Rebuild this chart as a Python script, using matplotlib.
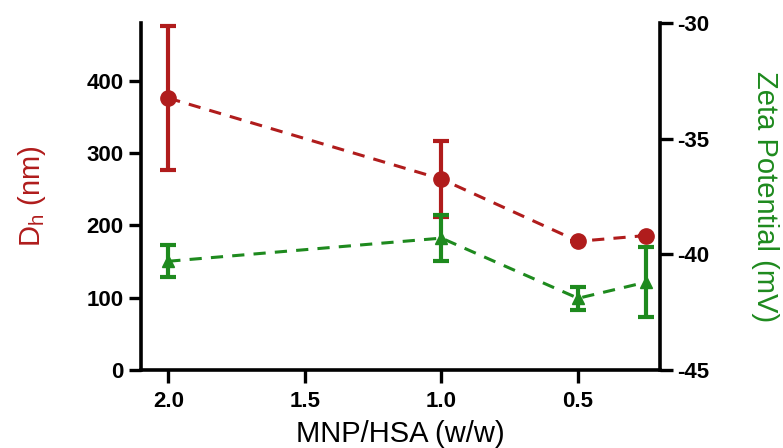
import numpy as np
import matplotlib
matplotlib.use("Agg")
import matplotlib.pyplot as plt

plt.rcParams['font.family'] = ['Liberation Sans', 'DejaVu Sans']
plt.rcParams['axes.unicode_minus'] = False

ratio = np.array([2.0, 1.0, 0.5, 0.25])
dh = np.array([376, 264, 178, 186])
dh_err = np.array([99, 52, 0, 0])
zeta = np.array([-40.3, -39.3, -41.9, -41.2])
zeta_err = np.array([0.7, 1.0, 0.5, 1.5])
xticks = [2.0, 1.5, 1.0, 0.5]

red = '#b01c1c'
green = '#1e8a1e'

fig = plt.figure(figsize=(7.83, 4.48), dpi=100)
ax = fig.add_axes([0.18, 0.174, 0.663, 0.775])
ax2 = ax.twinx()

ax.errorbar(ratio, dh, yerr=dh_err, color=red, ls='--', lw=2.2, marker='o', ms=11,
            elinewidth=3, capsize=6, capthick=3, dashes=(4, 3))
ax2.errorbar(ratio, zeta, yerr=zeta_err, color=green, ls='--', lw=2.2, marker='^', ms=9,
             elinewidth=3, capsize=6, capthick=3, dashes=(4, 3))

ax.set_xlim(2.1, 0.2)
ax.set_ylim(0, 480)
ax2.set_ylim(-45, -30)
ax.set_xticks(xticks)
ax.set_xticklabels(['2.0', '1.5', '1.0', '0.5'])
ax.set_yticks([0, 100, 200, 300, 400])
ax2.set_yticks([-30, -35, -40, -45])

for a in (ax, ax2):
    a.spines['top'].set_visible(False)
    for s in a.spines.values():
        s.set_linewidth(2.6)
    a.tick_params(width=2.4, length=9, labelsize=16, direction='out')
    for lab in a.get_xticklabels() + a.get_yticklabels():
        lab.set_fontweight('bold')
ax.tick_params(axis='x', pad=6)
ax.spines['right'].set_visible(False)
ax2.spines['left'].set_visible(False)
ax2.spines['bottom'].set_visible(False)

ax.set_xlabel('MNP/HSA (w/w)', fontsize=21, labelpad=6)
ax.set_ylabel('D$_\\mathregular{h}$ (nm)', fontsize=21, color=red, labelpad=28)
ax2.set_ylabel('Zeta Potential (mV)', fontsize=21, color=green, rotation=270, labelpad=50)

fig.savefig('out.png', dpi=100)
